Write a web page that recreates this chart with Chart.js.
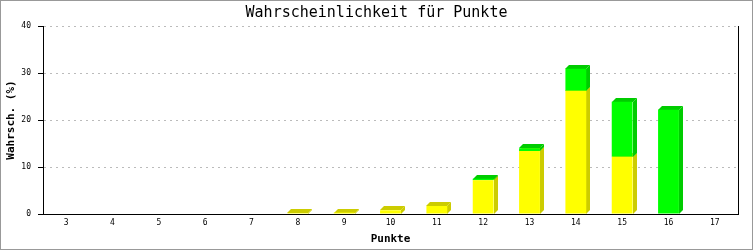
<!DOCTYPE html>
<html>
<head>
<meta charset="utf-8">
<script src="https://cdn.jsdelivr.net/npm/chart.js@4"></script>
<style>
  html, body { margin: 0; padding: 0; background: #fff; }
  canvas { display: block; }
</style>
</head>
<body>
<canvas id="punkte-chart" width="753" height="250"></canvas>
<script>
const punkteLabels = ["3", "4", "5", "6", "7", "8", "9", "10", "11", "12", "13", "14", "15", "16", "17"];
const gelbWerte = [0, 0, 0, 0, 0, 0.2, 0.3, 0.8, 1.7, 7.2, 13.4, 26.2, 12.2, 0, 0];
const gruenWerte = [0, 0, 0, 0, 0, 0, 0, 0, 0, 0.3, 0.6, 4.7, 11.7, 22.2, 0];
const yTicks = [0, 10, 20, 30, 40];

const tickFont = { size: 8, family: "DejaVu Sans Mono" };
const titleFont = { size: 11, family: "DejaVu Sans Mono", weight: "bold" };

// darker side + top faces, drawn behind the bar fronts
const depth = 4;
const bar3d = {
  id: "bar3d",
  beforeDatasetsDraw(chart) {
    const ctx = chart.ctx;
    chart.data.datasets.forEach((ds, i) => {
      const meta = chart.getDatasetMeta(i);
      meta.data.forEach((bar, j) => {
        if (!ds.data[j]) return;
        const { x, y, base, width } = bar.getProps(["x", "y", "base", "width"], true);
        const left = Math.round(x - width / 2);
        const right = Math.round(x + width / 2);
        const bottom = Math.round(base);
        const top = Math.min(Math.round(y), bottom - 1);
        ctx.save();
        ctx.fillStyle = ds.sideColor;
        ctx.beginPath();
        ctx.moveTo(right, top);
        ctx.lineTo(right + depth, top - depth);
        ctx.lineTo(right + depth, bottom - depth);
        ctx.lineTo(right, bottom);
        ctx.closePath();
        ctx.fill();
        ctx.beginPath();
        ctx.moveTo(left, top);
        ctx.lineTo(left + depth, top - depth);
        ctx.lineTo(right + depth, top - depth);
        ctx.lineTo(right, top);
        ctx.closePath();
        ctx.fill();
        ctx.restore();
      });
    });
  },
  afterDraw(chart) {
    const ctx = chart.ctx;
    ctx.save();
    ctx.strokeStyle = "#999999";
    ctx.lineWidth = 1;
    ctx.strokeRect(0.5, 0.5, chart.width - 1, chart.height - 1);
    ctx.restore();
  },
};

const punkteCtx = document.getElementById("punkte-chart").getContext("2d");

new Chart(punkteCtx, {
  type: "bar",
  plugins: [bar3d],
  data: {
    labels: punkteLabels,
    datasets: [
      {
        label: "gelb",
        data: gelbWerte,
        backgroundColor: "#ffff00",
        sideColor: "#cccc00",
        borderWidth: 0,
        categoryPercentage: 0.9,
        barPercentage: 0.5,
      },
      {
        label: "gruen",
        data: gruenWerte,
        backgroundColor: "#00ff00",
        sideColor: "#00cc00",
        borderWidth: 0,
        categoryPercentage: 0.9,
        barPercentage: 0.5,
      },
    ],
  },
  options: {
    responsive: false,
    animation: false,
    devicePixelRatio: 1,
    layout: { padding: 0 },
    plugins: {
      legend: { display: false },
      tooltip: { enabled: false },
      title: {
        display: true,
        text: "Wahrscheinlichkeit für Punkte",
        color: "#000",
        font: { size: 15, family: "DejaVu Sans Mono", weight: "normal" },
        padding: { top: 4, bottom: 4 },
      },
    },
    scales: {
      x: {
        stacked: true,
        grid: { display: false, drawTicks: false },
        border: { display: true, color: "#000", width: 1 },
        ticks: { color: "#000", font: tickFont, padding: 4, maxRotation: 0 },
        title: {
          display: true,
          text: "Punkte",
          color: "#000",
          font: titleFont,
          padding: { top: 4, bottom: 4 },
        },
        afterFit(scale) {
          scale.height = 36;
        },
      },
      y: {
        stacked: true,
        min: 0,
        max: 40,
        afterBuildTicks(scale) {
          scale.ticks = yTicks.map((v) => ({ value: v }));
        },
        grid: {
          drawTicks: true,
          tickLength: 5,
          tickColor: "#000",
          tickBorderDash: [],
          color: (c) => (c.tick && c.tick.value === 0 ? "rgba(0,0,0,0)" : "#bbbbbb"),
        },
        border: { display: true, color: "#000", width: 1, dash: [2, 4] },
        ticks: { color: "#000", font: tickFont, padding: 7 },
        title: {
          display: true,
          text: "Wahrsch. (%)",
          color: "#000",
          font: titleFont,
          padding: { top: 5, bottom: 0 },
        },
        afterFit(scale) {
          scale.width = 43;
        },
      },
      yRechts: {
        position: "right",
        min: 0,
        max: 40,
        grid: { display: false, drawTicks: false },
        border: { display: true, color: "#000", width: 1 },
        ticks: { display: false },
        afterFit(scale) {
          scale.width = 15;
        },
      },
    },
  },
});
</script>
</body>
</html>
